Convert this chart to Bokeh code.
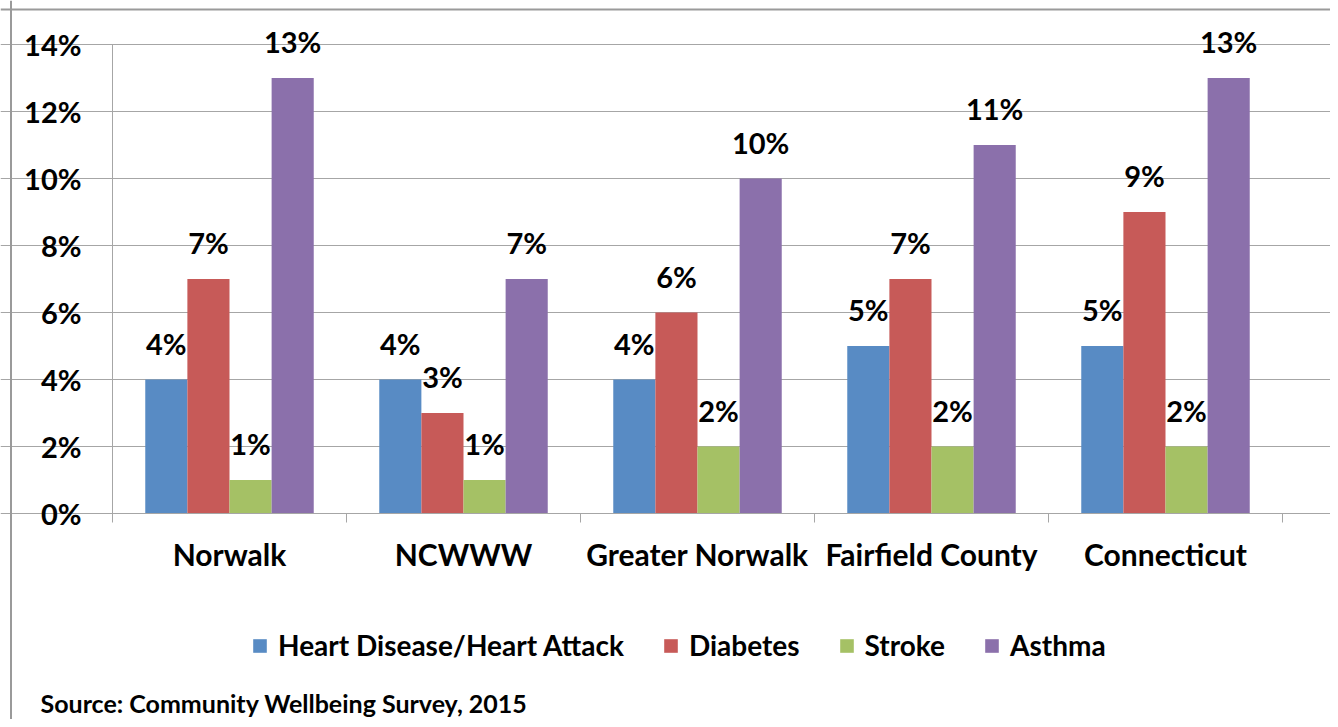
from bokeh.plotting import figure
from bokeh.models import (ColumnDataSource, FixedTicker, LabelSet, Label, Legend,
                          LegendItem, Range1d, Span)
from bokeh.core.properties import value
from bokeh.transform import dodge
from bokeh.embed import file_html
from bokeh.resources import INLINE

categories = ["Norwalk", "NCWWW", "Greater Norwalk", "Fairfield County", "Connecticut"]
series = ["Heart Disease/Heart Attack", "Diabetes", "Stroke", "Asthma"]
heart = [4, 4, 4, 5, 5]
diabetes = [7, 3, 6, 7, 9]
stroke = [1, 1, 2, 2, 2]
asthma = [13, 7, 10, 11, 13]
y_ticks = [0, 2, 4, 6, 8, 10, 12, 14]

colors = ["#588BC4", "#C75A58", "#A5C165", "#8B70AB"]
offsets = [-0.27, -0.09, 0.09, 0.27]
FONT = "Lato"
GRID = "#a6a6a6"

W, H = 1330, 719
FX0, FY0, FY14 = 112, 513, 44          # pixel anchors of the value axes
PXX = (1282 - 112) / len(categories)    # px per category
PXY = (FY0 - FY14) / 14.0               # px per percent

xs = [i + 0.5 for i in range(len(categories))]
data = dict(x=xs, heart=heart, diabetes=diabetes, stroke=stroke, asthma=asthma)
for k in ["heart", "diabetes", "stroke", "asthma"]:
    data[k + "_lbl"] = [f"{v}%" for v in data[k]]
src = ColumnDataSource(data)

p = figure(width=W, height=H, output_backend="svg", toolbar_location=None,
           x_range=Range1d(-FX0 / PXX, (W - FX0) / PXX),
           y_range=Range1d(-(H - FY0) / PXY, FY0 / PXY),
           min_border=0)
p.outline_line_color = None
p.border_fill_color = "white"
p.background_fill_color = "white"

keys = ["heart", "diabetes", "stroke", "asthma"]
renderers = []
for k, c, off in zip(keys, colors, offsets):
    r = p.vbar(x=dodge("x", off, range=p.x_range), top=k, width=0.18, bottom=0,
               source=src, fill_color=c, line_color=None)
    renderers.append(r)
    ls = LabelSet(x=dodge("x", off, range=p.x_range), y=k, text=k + "_lbl", source=src,
                  text_align="center", text_baseline="alphabetic", y_offset=25,
                  text_font=value(FONT), text_font_style="bold", text_font_size="29px",
                  text_color="black")
    p.add_layout(ls)

# x axis fixed at 0
p.xaxis.fixed_location = 0
p.xaxis.bounds = (0, len(categories))
p.xaxis.ticker = FixedTicker(ticks=xs, minor_ticks=list(range(len(categories) + 1)))
p.xaxis.major_label_overrides = {x: c for x, c in zip(xs, categories)}
p.xaxis.major_tick_line_color = None
p.xaxis.major_tick_out = 0
p.xaxis.major_tick_in = 0
p.xaxis.minor_tick_line_color = GRID
p.xaxis.minor_tick_out = 9
p.xaxis.minor_tick_in = 0
p.xaxis.axis_line_color = GRID
p.xaxis.major_label_standoff = 13
p.xaxis.major_label_text_font = FONT
p.xaxis.major_label_text_font_style = "bold"
p.xaxis.major_label_text_font_size = "30px"
p.xaxis.major_label_text_color = "black"

# y axis fixed at 0
p.yaxis.fixed_location = 0
p.yaxis.bounds = (0, 14)
p.yaxis.ticker = FixedTicker(ticks=y_ticks, minor_ticks=[])
p.yaxis.major_label_overrides = {t: f"{t}%" for t in y_ticks}
p.yaxis.major_tick_line_color = GRID
p.yaxis.major_tick_out = 8
p.yaxis.major_tick_in = 0
p.yaxis.axis_line_color = GRID
p.yaxis.major_label_standoff = 23
p.yaxis.major_label_text_font = FONT
p.yaxis.major_label_text_font_style = "bold"
p.yaxis.major_label_text_font_size = "29px"
p.yaxis.major_label_text_color = "black"

p.xgrid.grid_line_color = None
p.ygrid.ticker = FixedTicker(ticks=y_ticks)
p.ygrid.bounds = (0, len(categories))
p.ygrid.grid_line_color = GRID
p.ygrid.grid_line_width = 1

# chart border (left and top)
p.add_layout(Span(location=(10.5 - FX0) / PXX, dimension="height",
                  line_color="#9a9a9a", line_width=2))
p.add_layout(Span(location=(FY0 - 9) / PXY, dimension="width",
                  line_color="#9a9a9a", line_width=2))

legend = Legend(items=[LegendItem(label=s, renderers=[r]) for s, r in zip(series, renderers)],
                orientation="horizontal", location=(251, H - 662),
                glyph_width=17, glyph_height=17, label_standoff=10, spacing=38,
                label_text_font=FONT, label_text_font_style="bold",
                label_text_font_size="28px", label_text_color="black",
                border_line_color=None, background_fill_alpha=0,
                padding=0, margin=0)
p.add_layout(legend, "center")

src_lbl = Label(x=40, y=H - 702, x_units="screen", y_units="screen",
                text="Source: Community Wellbeing Survey, 2015",
                text_baseline="alphabetic",
                text_font=FONT, text_font_style="bold", text_font_size="25px",
                text_color="black")
p.add_layout(src_lbl)

open("out.html", "w").write(file_html(p, INLINE))
